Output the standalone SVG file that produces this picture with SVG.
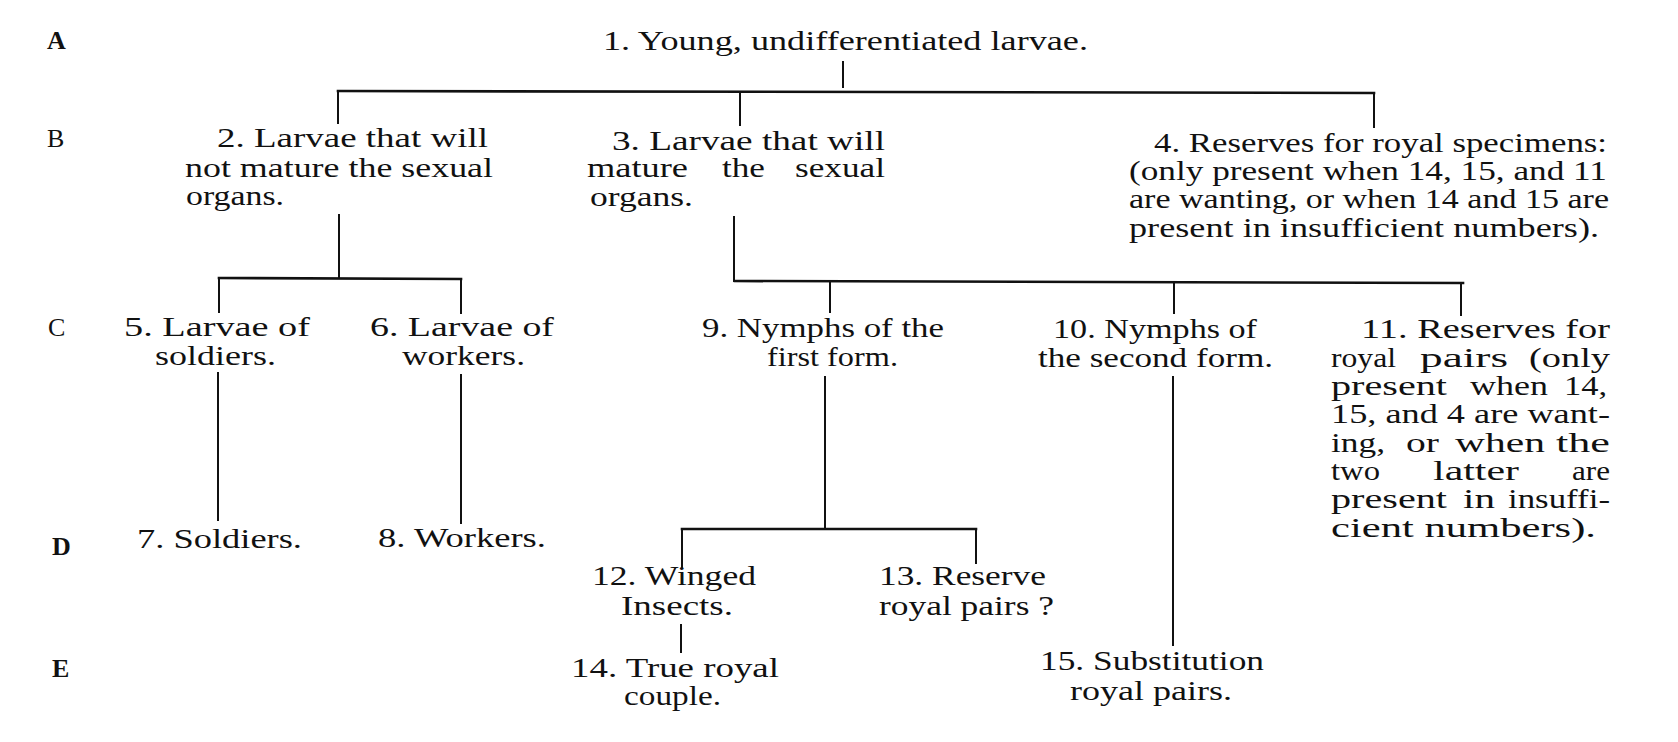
<svg xmlns="http://www.w3.org/2000/svg" width="1678" height="742" viewBox="0 0 1678 742">
<style>
text{font-family:"Liberation Serif","Times New Roman",serif;font-size:27px;fill:#111}
.lbl{font-size:26px}
.bold{font-weight:bold}
line{stroke:#111;stroke-width:2;stroke-linecap:square}
.bar{stroke-width:2.6}
</style>
<rect width="1678" height="742" fill="#fff"/>
<g id="row-labels">
<text class="lbl bold" x="47" y="49">A</text>
<text class="lbl" x="47" y="147">B</text>
<text class="lbl" x="48" y="336">C</text>
<text class="lbl bold" x="52" y="555">D</text>
<text class="lbl bold" x="52" y="677">E</text>
</g>
<g id="connectors">
<line x1="843" y1="62" x2="843" y2="87"/>
<line class="bar" x1="338" y1="91" x2="1374" y2="93"/>
<line x1="338" y1="92" x2="338" y2="123"/>
<line x1="740" y1="93" x2="740" y2="125"/>
<line x1="1374" y1="94" x2="1374" y2="127"/>
<line x1="339" y1="215" x2="339" y2="277"/>
<line class="bar" x1="219" y1="278" x2="461" y2="279"/>
<line x1="219" y1="279" x2="219" y2="312"/>
<line x1="461" y1="280" x2="461" y2="313"/>
<line x1="218" y1="373" x2="218" y2="520"/>
<line x1="461" y1="375" x2="461" y2="523"/>
<line x1="734" y1="217" x2="734" y2="281"/>
<line class="bar" x1="735" y1="281" x2="1463" y2="283"/>
<line x1="830" y1="283" x2="830" y2="312"/>
<line x1="1174" y1="284" x2="1174" y2="313"/>
<line x1="1461" y1="284" x2="1461" y2="315"/>
<line x1="825" y1="377" x2="825" y2="527"/>
<line class="bar" x1="682" y1="529" x2="976" y2="529"/>
<line x1="682" y1="530" x2="682" y2="567"/>
<line x1="976" y1="530" x2="976" y2="563"/>
<line x1="681" y1="625" x2="681" y2="652"/>
<line x1="1173" y1="377" x2="1173" y2="645"/>
</g>
<g id="node1">
<text x="603" y="50" textLength="485" lengthAdjust="spacingAndGlyphs">1. Young, undifferentiated larvae.</text>
</g>
<g id="node2">
<text x="217" y="147" textLength="271" lengthAdjust="spacingAndGlyphs">2. Larvae that will</text>
<text x="185" y="177" textLength="308" lengthAdjust="spacingAndGlyphs">not mature the sexual</text>
<text x="186" y="205" textLength="98" lengthAdjust="spacingAndGlyphs">organs.</text>
</g>
<g id="node3">
<text x="612" y="150" textLength="273" lengthAdjust="spacingAndGlyphs">3. Larvae that will</text>
<text x="587" y="177" textLength="101" lengthAdjust="spacingAndGlyphs">mature</text>
<text x="722" y="177" textLength="43" lengthAdjust="spacingAndGlyphs">the</text>
<text x="795" y="177" textLength="90" lengthAdjust="spacingAndGlyphs">sexual</text>
<text x="590" y="206" textLength="103" lengthAdjust="spacingAndGlyphs">organs.</text>
</g>
<g id="node4">
<text x="1154" y="152" textLength="453" lengthAdjust="spacingAndGlyphs">4. Reserves for royal specimens:</text>
<text x="1129" y="180" textLength="478" lengthAdjust="spacingAndGlyphs">(only present when 14, 15, and 11</text>
<text x="1129" y="208" textLength="480" lengthAdjust="spacingAndGlyphs">are wanting, or when 14 and 15 are</text>
<text x="1129" y="237" textLength="470" lengthAdjust="spacingAndGlyphs">present in insufficient numbers).</text>
</g>
<g id="node5">
<text x="124" y="336" textLength="186" lengthAdjust="spacingAndGlyphs">5. Larvae of</text>
<text x="155" y="365" textLength="121" lengthAdjust="spacingAndGlyphs">soldiers.</text>
</g>
<g id="node6">
<text x="370" y="336" textLength="184" lengthAdjust="spacingAndGlyphs">6. Larvae of</text>
<text x="402" y="365" textLength="123" lengthAdjust="spacingAndGlyphs">workers.</text>
</g>
<g id="node7">
<text x="137" y="548" textLength="165" lengthAdjust="spacingAndGlyphs">7. Soldiers.</text>
</g>
<g id="node8">
<text x="378" y="547" textLength="168" lengthAdjust="spacingAndGlyphs">8. Workers.</text>
</g>
<g id="node9">
<text x="702" y="337" textLength="242" lengthAdjust="spacingAndGlyphs">9. Nymphs of the</text>
<text x="767" y="366" textLength="131" lengthAdjust="spacingAndGlyphs">first form.</text>
</g>
<g id="node10">
<text x="1053" y="338" textLength="204" lengthAdjust="spacingAndGlyphs">10. Nymphs of</text>
<text x="1038" y="367" textLength="235" lengthAdjust="spacingAndGlyphs">the second form.</text>
</g>
<g id="node11">
<text x="1361" y="338" textLength="249" lengthAdjust="spacingAndGlyphs">11. Reserves for</text>
<text x="1331" y="367" textLength="65" lengthAdjust="spacingAndGlyphs">royal</text>
<text x="1420" y="367" textLength="88" lengthAdjust="spacingAndGlyphs">pairs</text>
<text x="1529" y="367" textLength="81" lengthAdjust="spacingAndGlyphs">(only</text>
<text x="1331" y="395" textLength="116" lengthAdjust="spacingAndGlyphs">present</text>
<text x="1470" y="395" textLength="78" lengthAdjust="spacingAndGlyphs">when</text>
<text x="1564" y="395" textLength="43" lengthAdjust="spacingAndGlyphs">14,</text>
<text x="1331" y="423" textLength="279" lengthAdjust="spacingAndGlyphs">15, and 4 are want-</text>
<text x="1331" y="452" textLength="54" lengthAdjust="spacingAndGlyphs">ing,</text>
<text x="1406" y="452" textLength="33" lengthAdjust="spacingAndGlyphs">or</text>
<text x="1455" y="452" textLength="90" lengthAdjust="spacingAndGlyphs">when</text>
<text x="1556" y="452" textLength="54" lengthAdjust="spacingAndGlyphs">the</text>
<text x="1331" y="480" textLength="49" lengthAdjust="spacingAndGlyphs">two</text>
<text x="1433" y="480" textLength="86" lengthAdjust="spacingAndGlyphs">latter</text>
<text x="1572" y="480" textLength="38" lengthAdjust="spacingAndGlyphs">are</text>
<text x="1331" y="508" textLength="116" lengthAdjust="spacingAndGlyphs">present</text>
<text x="1463" y="508" textLength="32" lengthAdjust="spacingAndGlyphs">in</text>
<text x="1508" y="508" textLength="102" lengthAdjust="spacingAndGlyphs">insuffi-</text>
<text x="1331" y="537" textLength="265" lengthAdjust="spacingAndGlyphs">cient numbers).</text>
</g>
<g id="node12">
<text x="592" y="585" textLength="164" lengthAdjust="spacingAndGlyphs">12. Winged</text>
<text x="621" y="615" textLength="112" lengthAdjust="spacingAndGlyphs">Insects.</text>
</g>
<g id="node13">
<text x="879" y="585" textLength="167" lengthAdjust="spacingAndGlyphs">13. Reserve</text>
<text x="879" y="615" textLength="175" lengthAdjust="spacingAndGlyphs">royal pairs ?</text>
</g>
<g id="node14">
<text x="571" y="677" textLength="208" lengthAdjust="spacingAndGlyphs">14. True royal</text>
<text x="624" y="705" textLength="97" lengthAdjust="spacingAndGlyphs">couple.</text>
</g>
<g id="node15">
<text x="1040" y="670" textLength="224" lengthAdjust="spacingAndGlyphs">15. Substitution</text>
<text x="1070" y="700" textLength="162" lengthAdjust="spacingAndGlyphs">royal pairs.</text>
</g>
</svg>
